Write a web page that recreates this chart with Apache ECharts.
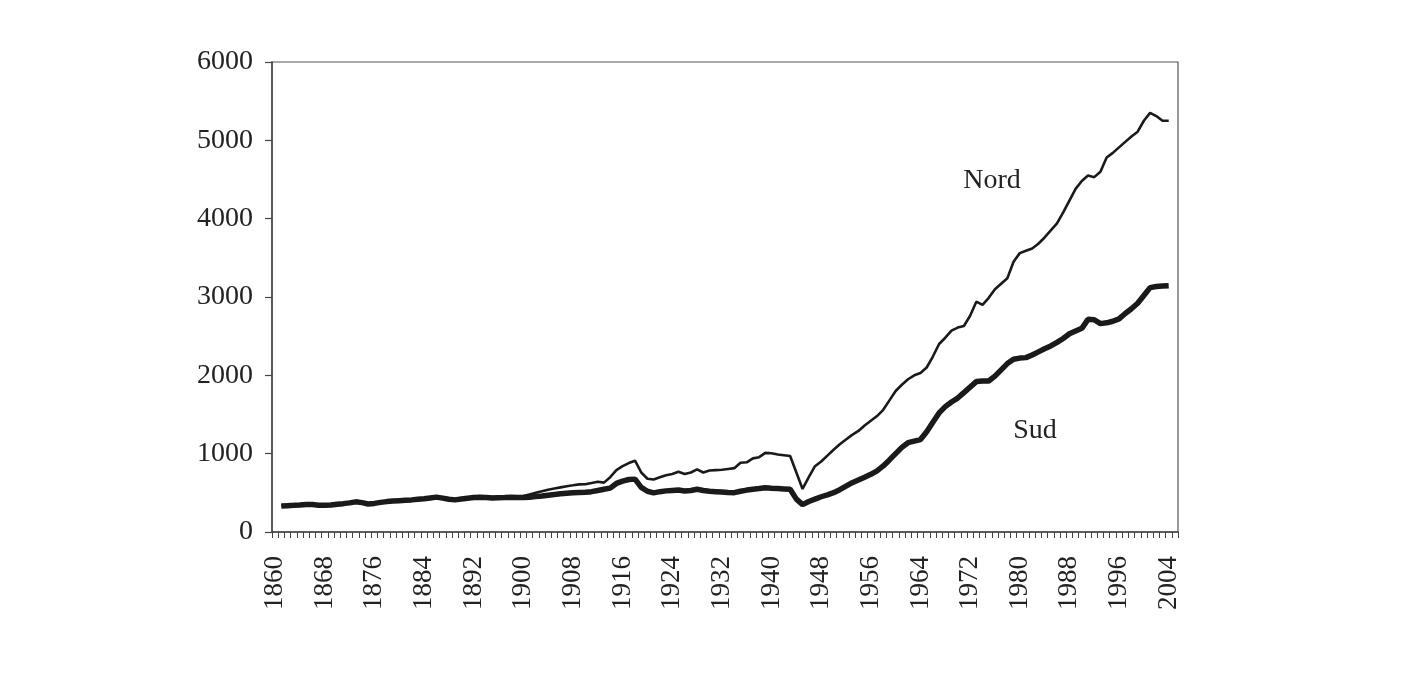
<!DOCTYPE html>
<html>
<head>
<meta charset="utf-8">
<script src="https://cdn.jsdelivr.net/npm/echarts@6/dist/echarts.min.js"></script>
<style>html,body{margin:0;padding:0;background:#fff}#c{width:1413px;height:673px}</style>
</head>
<body>
<div id="c"></div>
<script>
const years = [];
for (let y = 1860; y <= 2005; y++) years.push(String(y));

// values 1861..2004 (slot 1860 and 2005 are empty)
const nordValues = [
  338,342,346,352,358,356,348,346,350,360,367,378,390,382,365,372,384,394,401,406,
  411,416,424,431,441,451,440,426,418,428,438,448,453,450,446,449,452,457,455,460,
  480,500,520,540,555,570,585,596,608,610,625,642,630,700,790,840,880,910,760,680,
  670,700,725,740,768,740,760,800,760,785,790,795,805,815,885,890,940,955,1010,1005,
  990,980,970,760,550,700,840,900,975,1050,1120,1180,1240,1290,1360,1420,1480,1560,1680,1800,
  1880,1950,2000,2030,2100,2240,2400,2480,2570,2610,2630,2760,2940,2900,2990,3100,3170,3240,3450,3560,
  3590,3620,3680,3760,3850,3940,4080,4230,4380,4480,4550,4530,4600,4780,4840,4910,4980,5050,5110,5250,
  5350,5310,5250,5250
];
const sudValues = [
  332,336,340,345,352,350,342,340,345,355,362,372,385,375,358,365,378,388,395,400,
  405,410,418,425,435,445,432,418,410,420,430,440,445,440,435,438,440,445,440,440,
  445,452,460,470,480,488,495,502,505,508,515,530,545,560,620,650,670,675,570,520,
  500,515,525,530,535,523,530,545,530,520,515,510,505,502,520,535,545,555,566,560,
  555,550,545,420,350,390,420,450,475,502,540,585,630,665,700,736,780,843,920,1000,
  1080,1140,1160,1180,1280,1400,1520,1600,1660,1710,1780,1850,1920,1928,1928,1990,2070,2150,2205,2220,
  2226,2260,2300,2340,2375,2420,2470,2530,2565,2600,2715,2710,2660,2670,2690,2720,2790,2850,2920,3020,
  3120,3135,3140,3145
];
const yTicks = [0, 1000, 2000, 3000, 4000, 5000, 6000];
const seriesNames = ['Nord', 'Sud'];

function pad(arr) { return [null].concat(arr, [null]); }

const chart = echarts.init(document.getElementById('c'));
const font = 'Liberation Serif, Times New Roman, serif';
chart.setOption({
  animation: false,
  backgroundColor: '#fff',
  grid: { left: 272, right: 235, top: 62, bottom: 141, show: true, borderColor: '#555', borderWidth: 1.2, backgroundColor: 'transparent' },
  xAxis: {
    type: 'category', data: years, boundaryGap: true,
    axisLine: { lineStyle: { color: '#444', width: 1.5 } },
    axisTick: { show: true, interval: 0, length: 6, lineStyle: { color: '#444', width: 1 } },
    axisLabel: { interval: 7, rotate: 90, margin: 24, fontFamily: font, fontSize: 27, color: '#222' },
    splitLine: { show: false }
  },
  yAxis: {
    type: 'value', min: yTicks[0], max: yTicks[yTicks.length - 1], interval: 1000,
    axisLine: { show: true, lineStyle: { color: '#444', width: 1.5 } },
    axisTick: { show: true, length: 7, lineStyle: { color: '#444', width: 1.2 } },
    axisLabel: { margin: 19, fontFamily: font, fontSize: 28, color: '#222', formatter: function (v) { return String(v); } },
    splitLine: { show: false }
  },
  series: [
    { name: seriesNames[0], type: 'line', data: pad(nordValues), showSymbol: false, symbol: 'none',
      lineStyle: { color: '#1a1a1a', width: 2.6 }, z: 3 },
    { name: seriesNames[1], type: 'line', data: pad(sudValues), showSymbol: false, symbol: 'none',
      lineStyle: { color: '#1a1a1a', width: 5.5 }, z: 2 }
  ],
  graphic: [
    { type: 'text', x: 992, y: 181, style: { text: seriesNames[0], font: '28px ' + font, fill: '#222', textAlign: 'center', textVerticalAlign: 'middle' } },
    { type: 'text', x: 1035, y: 431, style: { text: seriesNames[1], font: '28px ' + font, fill: '#222', textAlign: 'center', textVerticalAlign: 'middle' } }
  ]
});
</script>
</body>
</html>
